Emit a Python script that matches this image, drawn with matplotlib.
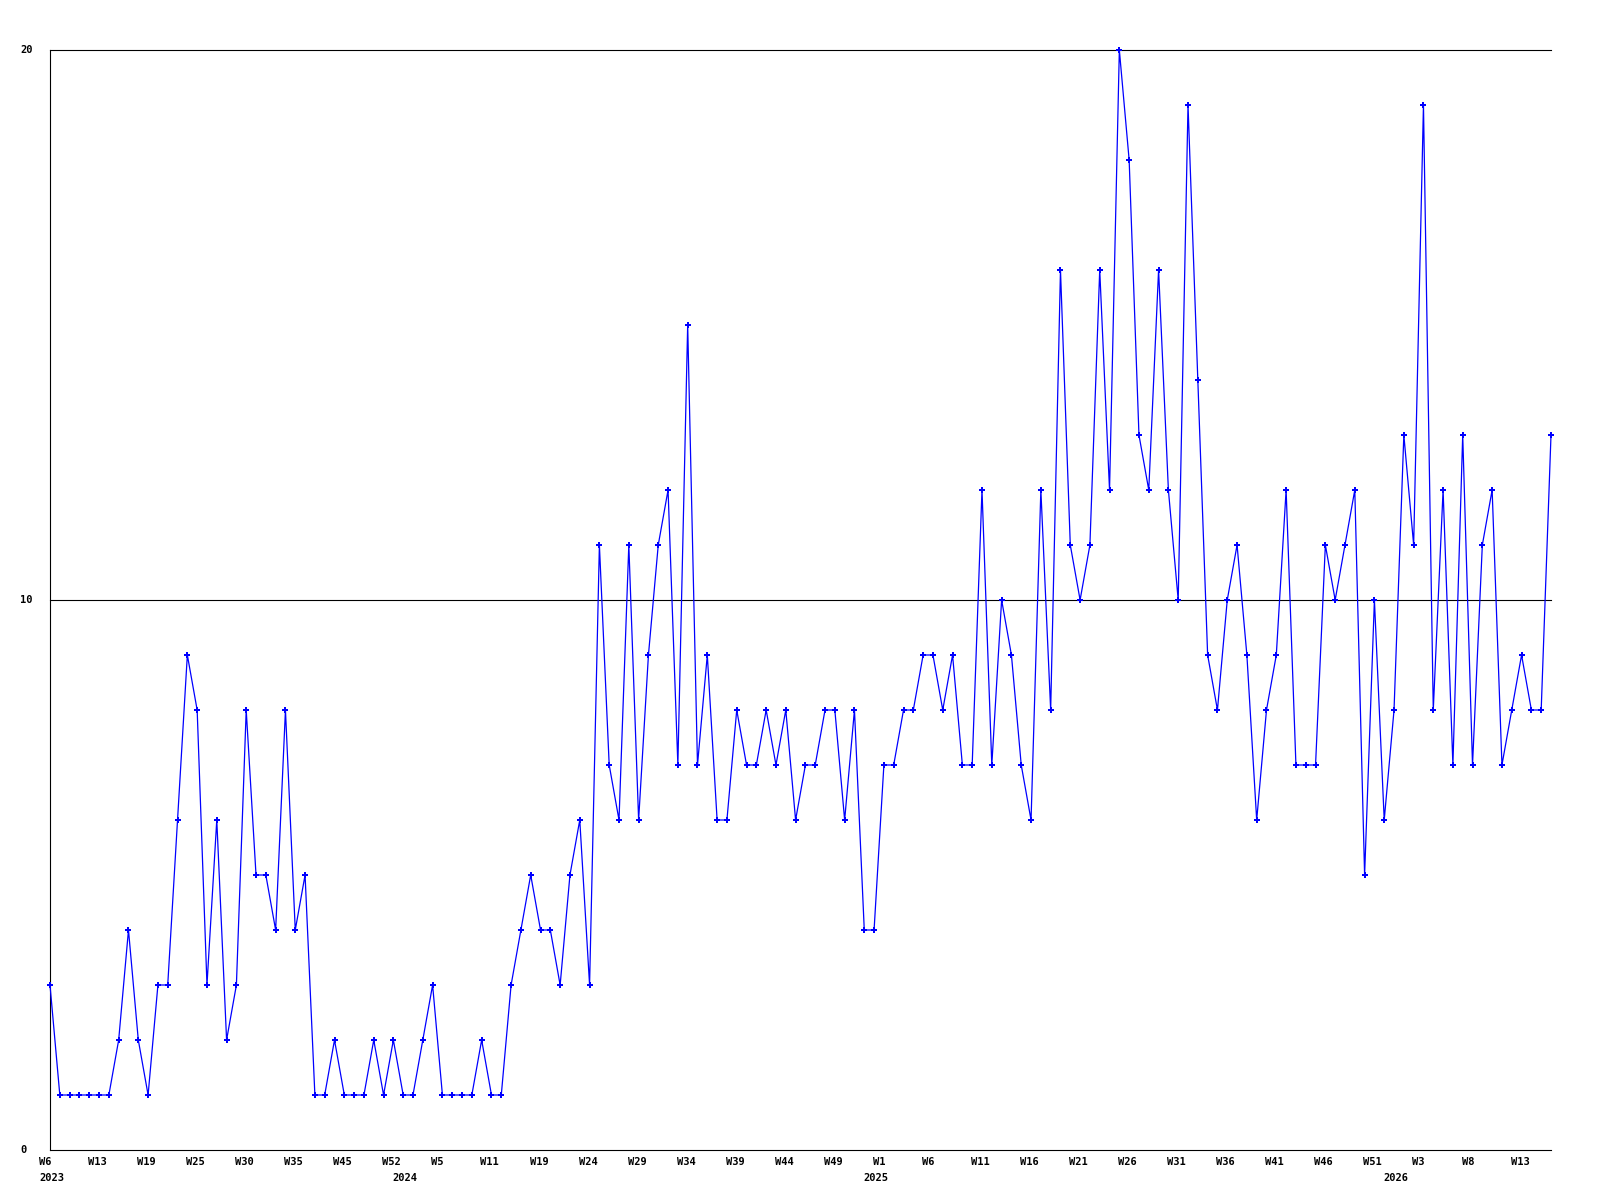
import matplotlib
matplotlib.use("Agg")
import matplotlib.pyplot as plt
import matplotlib.transforms as mtransforms
from matplotlib.transforms import blended_transform_factory

# weekly counts, one point per reported week (weeks with no report are skipped)
counts = [3, 1, 1, 1, 1, 1, 1, 2, 4, 2, 1, 3, 3, 6, 9, 8, 3, 6, 2, 3, 8, 5, 5, 4, 8, 4, 5, 1,
          1, 2, 1, 1, 1, 2, 1, 2, 1, 1, 2, 3, 1, 1, 1, 1, 2, 1, 1, 3, 4, 5, 4, 4, 3, 5, 6, 3,
          11, 7, 6, 11, 6, 9, 11, 12, 7, 15, 7, 9, 6, 6, 8, 7, 7, 8, 7, 8, 6, 7, 7, 8, 8,
          6, 8, 4, 4, 7, 7, 8, 8, 9, 9, 8, 9, 7, 7, 12, 7, 10, 9, 7, 6, 12, 8,
          16, 11, 10, 11, 16, 12, 20, 18, 13, 12, 16, 12, 10, 19, 14, 9, 8, 10, 11, 9, 6, 8, 9, 12, 7, 7,
          7, 11, 10, 11, 12, 5, 10, 6, 8, 13, 11, 19, 8, 12, 7, 13, 7, 11, 12, 7, 8, 9, 8, 8, 13]

# a week label every 5th point
week_labels = ["W6", "W13", "W19", "W25", "W30", "W35", "W45", "W52", "W5", "W11", "W19",
               "W24", "W29", "W34", "W39", "W44", "W49", "W1", "W6", "W11", "W16", "W21",
               "W26", "W31", "W36", "W41", "W46", "W51", "W3", "W8", "W13"]
years = ["2023", "2024", "2025", "2026"]
year_points = [0, 36, 84, 137]
y_ticks = [0, 10, 20]

x = list(range(len(counts)))

fig = plt.figure(figsize=(16, 12), dpi=100)
ax = fig.add_axes([50 / 1600, 50 / 1200, 1501 / 1600, 1100 / 1200])

ax.plot(x, counts, color="#0000ff", lw=0.9, marker="P", markersize=4.2,
        markeredgewidth=0, clip_on=False, zorder=3)

ax.set_xlim(0, len(counts) - 1)
ax.set_ylim(0, 20)

for v in y_ticks[1:]:
    ax.axhline(v, color="black", lw=0.8, zorder=1, clip_on=False)

for s in ["top", "right"]:
    ax.spines[s].set_visible(False)
ax.spines["left"].set_linewidth(0.8)
ax.spines["bottom"].set_linewidth(0.8)

font = dict(family="DejaVu Sans Mono", weight="bold", size=7.5)

# x tick labels, left-aligned a little before each point
ax.set_xticks(x[::5])
ax.set_xticklabels(week_labels, **font)
ax.tick_params(axis="x", length=0, pad=5)
shift = mtransforms.ScaledTranslation(-11 / 100, 0, fig.dpi_scale_trans)
for lab in ax.get_xticklabels():
    lab.set_horizontalalignment("left")
    lab.set_transform(lab.get_transform() + shift)

for yr, p in zip(years, year_points):
    ax.annotate(yr, xy=(p, 0), xycoords=("data", "axes fraction"),
                xytext=(-11 * 0.72, -23 * 0.72), textcoords="offset points",
                ha="left", va="top", **font)

# y labels sit at the left edge of the figure
ax.set_yticks([])
tr = blended_transform_factory(fig.transFigure, ax.transData)
for v in y_ticks:
    ax.text(20 / 1600, v, str(v), transform=tr, ha="left", va="center", **font)

fig.savefig("out.png", dpi=100)
